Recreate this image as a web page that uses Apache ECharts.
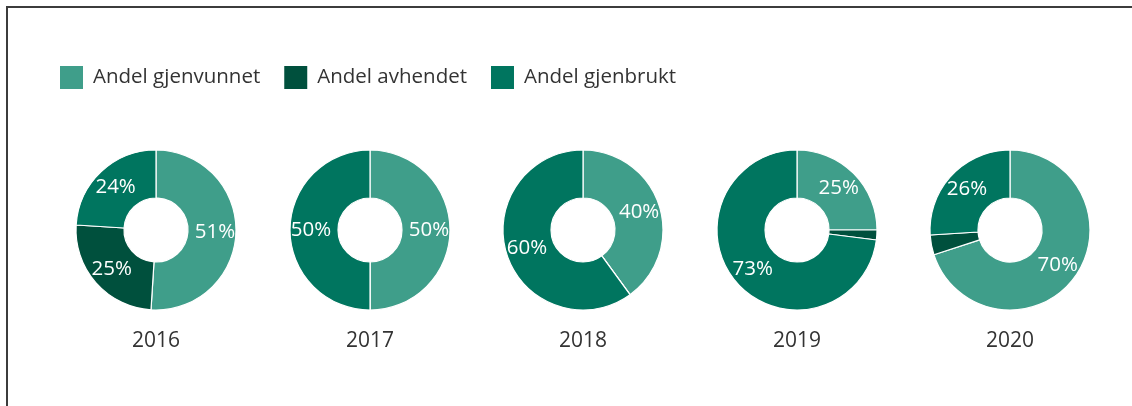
<!DOCTYPE html>
<html>
<head>
<meta charset="utf-8">
<script src="https://cdn.jsdelivr.net/npm/echarts@6/dist/echarts.min.js"></script>
<style>
  html, body { margin: 0; padding: 0; background: #fff; }
  #wrap { position: relative; width: 1132px; height: 406px; overflow: hidden; }
  #chart { position: absolute; left: 0; top: 0; width: 1132px; height: 406px; }
  .frame {
    position: absolute; left: 6px; top: 6px; width: 1140px; height: 420px;
    border-top: 2px solid #3c3c3c; border-left: 2px solid #3c3c3c;
    box-sizing: border-box; pointer-events: none;
  }
</style>
</head>
<body>
<div id="wrap">
  <div id="chart"></div>
  <div class="frame"></div>
</div>
<script>
// data
const years = ['2016', '2017', '2018', '2019', '2020'];
const seriesNames = ['Andel gjenvunnet', 'Andel avhendet', 'Andel gjenbrukt'];
const gjenvunnet = [51, 50, 40, 25, 70];
const avhendet = [25, 0, 0, 2, 4];
const gjenbrukt = [24, 50, 60, 73, 26];

const colors = ['#3f9e8a', '#00503d', '#00755f'];
const centersX = [156, 370, 583, 797, 1010];
const centerY = 230;
const font = '"Open Sans", "Noto Sans", sans-serif';

const chart = echarts.init(document.getElementById('chart'), null, { renderer: 'canvas' });

const series = years.map((y, i) => ({
  name: y,
  type: 'pie',
  radius: [32, 80],
  center: [centersX[i], centerY],
  startAngle: 90,
  clockwise: true,
  silent: true,
  avoidLabelOverlap: false,
  itemStyle: { borderColor: '#fff', borderWidth: 1.2 },
  label: {
    show: true,
    position: 'inside',
    color: '#fff',
    fontSize: 20.5,
    fontFamily: font,
    formatter: (p) => (p.value >= 5 ? p.value + '%' : '')
  },
  labelLine: { show: false },
  emphasis: { disabled: true },
  data: [
    { name: seriesNames[0], value: gjenvunnet[i] },
    { name: seriesNames[1], value: avhendet[i] },
    { name: seriesNames[2], value: gjenbrukt[i] }
  ]
}));

const option = {
  animation: false,
  color: colors,
  legend: {
    left: 58,
    top: 64,
    padding: 0,
    itemWidth: 25,
    itemHeight: 25,
    itemGap: 22,
    icon: 'rect',
    data: seriesNames,
    textStyle: { fontSize: 20.5, color: '#333', fontFamily: font, padding: [0, 0, 0, 4] }
  },
  // year captions under each donut
  graphic: years.map((y, i) => ({
    type: 'text',
    x: centersX[i],
    y: 341,
    style: {
      text: y,
      textAlign: 'center',
      textVerticalAlign: 'middle',
      fontSize: 21,
      fontFamily: font,
      fill: '#333'
    }
  })),
  series
};

chart.setOption(option);
</script>
</body>
</html>
